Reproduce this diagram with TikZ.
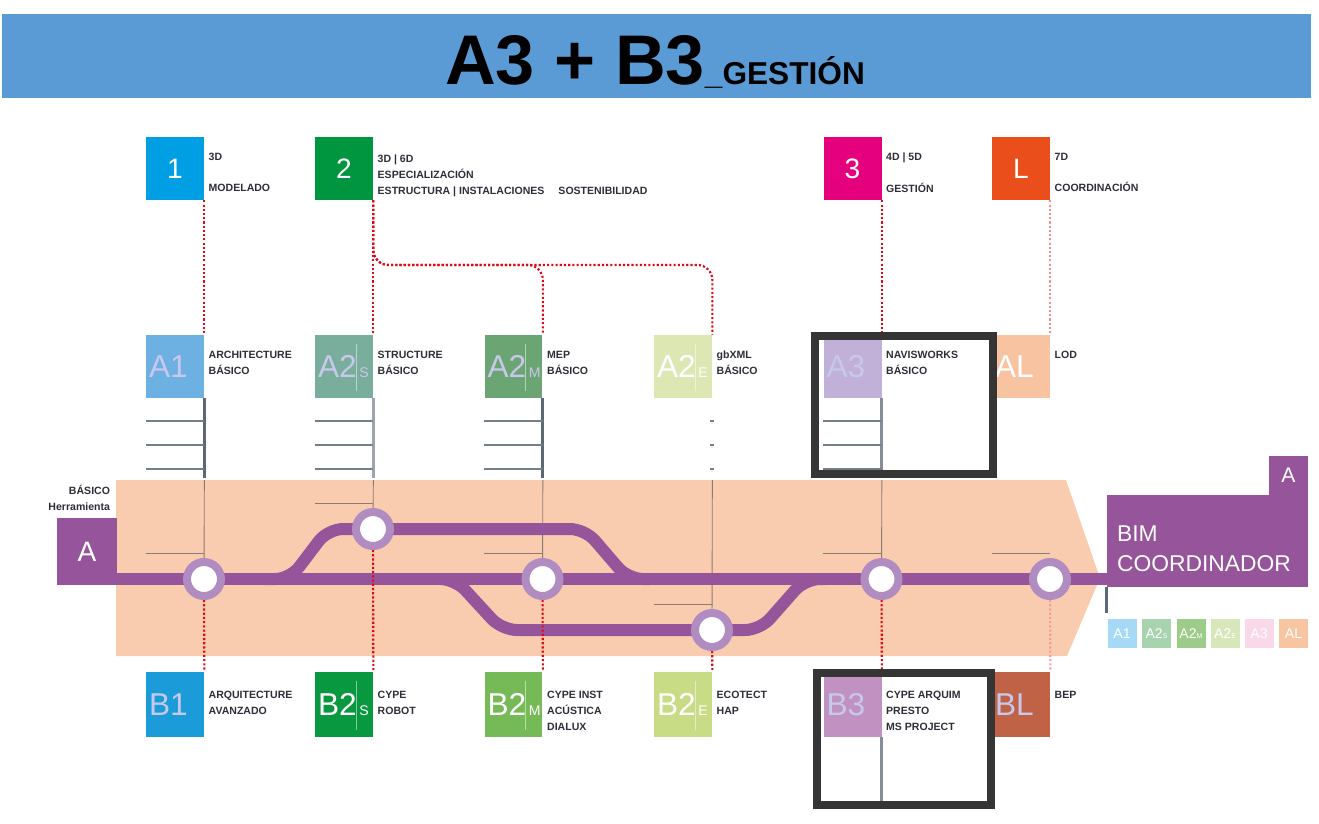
\documentclass[tikz,border=0pt]{standalone}
\usepackage{fontspec}
\setmainfont{Liberation Sans}
\usetikzlibrary{positioning,calc,backgrounds}

\definecolor{titleblue}{HTML}{5B9BD5}
\definecolor{modelblue}{HTML}{009FE3}
\definecolor{specgreen}{HTML}{009640}
\definecolor{gestmagenta}{HTML}{E5007D}
\definecolor{coordorange}{HTML}{E94E1B}
\definecolor{aone}{HTML}{6DB1E2}
\definecolor{atwos}{HTML}{7AAE9C}
\definecolor{atwom}{HTML}{6BA574}
\definecolor{atwoe}{HTML}{DCE7B4}
\definecolor{athree}{HTML}{C1B1D9}
\definecolor{alink}{HTML}{F8C3A1}
\definecolor{bone}{HTML}{1B9BD7}
\definecolor{btwos}{HTML}{08983F}
\definecolor{btwom}{HTML}{76BA57}
\definecolor{btwoe}{HTML}{C8DB85}
\definecolor{bthree}{HTML}{C191C2}
\definecolor{blink}{HTML}{BF6245}
\definecolor{chipone}{HTML}{A6D9F5}
\definecolor{chiptwos}{HTML}{A7D3AF}
\definecolor{chiptwom}{HTML}{9DCB8A}
\definecolor{chiptwoe}{HTML}{D8E7B9}
\definecolor{chipthree}{HTML}{F9D9E9}
\definecolor{chiplink}{HTML}{F8C5A2}
\definecolor{bandpeach}{HTML}{F9CCAF}
\definecolor{trackpurple}{HTML}{96549B}
\definecolor{ringpurple}{HTML}{B08CC1}
\definecolor{lettering}{HTML}{C8C8EC}
\definecolor{labelgray}{HTML}{2E2E38}
\definecolor{linkred}{HTML}{E30613}
\definecolor{stemgray}{HTML}{5C6875}
\definecolor{guidegray}{HTML}{8C7B70}
\definecolor{framegray}{HTML}{353535}

\newcommand{\tiersub}[1]{\hspace{1.5pt}{\fontsize{8}{8}\selectfont #1}}
\newcommand{\chipsub}[1]{{\fontsize{4}{4}\selectfont #1}}

\begin{document}
\begin{tikzpicture}[
    x=0.02cm, y=-0.02cm,
    topbox/.style={rectangle, minimum width=1.16cm, minimum height=1.26cm, inner sep=0pt, text=white, font=\fontsize{16}{16}\selectfont},
    tier/.style={rectangle, minimum width=1.16cm, minimum height=1.26cm, inner xsep=0.06cm, inner ysep=0pt, text width=1.04cm, align=left, text=lettering, font=\fontsize{18}{18}\selectfont},
    lbl/.style={inner sep=0pt, align=left, text=labelgray, font=\bfseries\fontsize{6}{9}\selectfont},
    reddot/.style={draw=linkred, line width=1.2pt, dash pattern=on 1.2pt off 1.2pt},
    track/.style={draw=trackpurple, line width=0.24cm},
    stop/.style={circle, draw=ringpurple, fill=white, line width=0.16cm, minimum size=0.68cm, inner sep=0pt},
    stem/.style={draw=stemgray, line width=1.6pt},
    rung/.style={draw=stemgray!85, line width=1.2pt},
    guide/.style={draw=guidegray, line width=0.5pt},
    sepline/.style={draw=white, draw opacity=0.5, line width=0.4pt},
    frame/.style={draw=framegray, line width=0.16cm},
    chip/.style={rectangle, minimum width=0.58cm, minimum height=0.58cm, inner sep=0pt, text=white, font=\fontsize{8}{8}\selectfont}
]
\useasboundingbox (0,0) rectangle (1319,823);

% title
\node[fill=titleblue, minimum width=26.18cm, minimum height=1.68cm, inner sep=0pt] (titlebar) at (656.5,56) {};
\node[anchor=base, inner sep=0pt, font=\bfseries] (title) at (655,84) {{\fontsize{40}{40}\selectfont A3 + B3}{\fontsize{18}{18}\selectfont\_GESTIÓN}};

% top row
\node[topbox, fill=modelblue] (t1) at (175,168.5) {1};
\node[topbox, fill=specgreen] (t2) at (344,168.5) {2};
\node[topbox, fill=gestmagenta] (t3) at (852.5,168.5) {3};
\node[topbox, fill=coordorange] (tL) at (1021,168.5) {L};
\node[lbl, below right=0.32cm and 0.08cm of t1.north east] (t1txt) {3D\\[9pt]MODELADO};
\node[lbl, below right=0.36cm and 0.08cm of t2.north east] (t2txt) {3D | 6D\\ESPECIALIZACIÓN\\ESTRUCTURA | INSTALACIONES\hspace{8pt}SOSTENIBILIDAD};
\node[lbl, below right=0.32cm and 0.08cm of t3.north east] (t3txt) {4D | 5D\\[9pt]GESTIÓN};
\node[lbl, below right=0.32cm and 0.08cm of tL.north east] (tLtxt) {7D\\[9pt]COORDINACIÓN};

% A row
\node[tier, fill=aone] (a1) at (175,366.5) {A1};
\node[tier, fill=atwos] (a2s) at (344,366.5) {\mbox{A2\tiersub{S}}};
\node[tier, fill=atwom] (a2m) at (513.5,366.5) {\mbox{A2\tiersub{M}}};
\node[tier, fill=atwoe, text=white] (a2e) at (683,366.5) {\mbox{A2\tiersub{E}}};
\node[tier, fill=athree] (a3) at (852.5,366.5) {A3};
\node[tier, fill=alink, text=white] (al) at (1021,366.5) {AL};
\node[lbl, below right=0.32cm and 0.08cm of a1.north east] (a1txt) {ARCHITECTURE\\BÁSICO};
\node[lbl, below right=0.32cm and 0.08cm of a2s.north east] (a2stxt) {STRUCTURE\\BÁSICO};
\node[lbl, below right=0.32cm and 0.08cm of a2m.north east] (a2mtxt) {MEP\\BÁSICO};
\node[lbl, below right=0.32cm and 0.08cm of a2e.north east] (a2etxt) {gbXML\\BÁSICO};
\node[lbl, below right=0.32cm and 0.08cm of a3.north east] (a3txt) {NAVISWORKS\\BÁSICO};
\node[lbl, below right=0.32cm and 0.08cm of al.north east] (altxt) {LOD};

% B row
\node[tier, minimum height=1.3cm, fill=bone] (b1) at (175,704.5) {B1};
\node[tier, minimum height=1.3cm, fill=btwos, text=white] (b2s) at (344,704.5) {\mbox{B2\tiersub{S}}};
\node[tier, minimum height=1.3cm, fill=btwom, text=white] (b2m) at (513.5,704.5) {\mbox{B2\tiersub{M}}};
\node[tier, minimum height=1.3cm, fill=btwoe, text=white] (b2e) at (683,704.5) {\mbox{B2\tiersub{E}}};
\node[tier, minimum height=1.3cm, fill=bthree] (b3) at (852.5,704.5) {B3};
\node[tier, minimum height=1.3cm, fill=blink] (bl) at (1021,704.5) {BL};
\node[lbl, below right=0.38cm and 0.08cm of b1.north east] (b1txt) {ARQUITECTURE\\AVANZADO};
\node[lbl, below right=0.38cm and 0.08cm of b2s.north east] (b2stxt) {CYPE\\ROBOT};
\node[lbl, below right=0.38cm and 0.08cm of b2m.north east] (b2mtxt) {CYPE INST\\ACÚSTICA\\DIALUX};
\node[lbl, below right=0.38cm and 0.08cm of b2e.north east] (b2etxt) {ECOTECT\\HAP};
\node[lbl, below right=0.38cm and 0.08cm of b3.north east] (b3txt) {CYPE ARQUIM\\PRESTO\\MS PROJECT};
\node[lbl, below right=0.38cm and 0.08cm of bl.north east] (bltxt) {BEP};

\foreach \b in {a2s,a2m,a2e,b2s,b2m,b2e}
  \draw[sepline] ($(\b.north east)+(-17,9)$) -- ($(\b.south east)+(-17,-7)$);

% line A and its stations
\node[fill=trackpurple, minimum width=1.2cm, minimum height=1.34cm, inner sep=0pt, text=white, font=\fontsize{16}{16}\selectfont] (abox) at (87,551.5) {A};
\node[lbl, align=right, above left=0.14cm and 0.14cm of abox.north east] (leveltxt) {BÁSICO\\Herramienta};
\node[stop] (s1) at (204,579) {};
\node[stop] (s2) at (373,529) {};
\node[stop] (s3) at (542.5,579) {};
\node[stop] (s4) at (712,630) {};
\node[stop] (s5) at (881.5,579) {};
\node[stop] (s6) at (1050,579) {};
\coordinate (trackin) at (57,579);
\coordinate (trackout) at (1110,579);

\begin{scope}[on background layer]
  \fill[bandpeach] (116,480) -- (1066,480) -- (1100,578) -- (1067,656) -- (116,656) -- cycle;
  \draw[guide] (a1.south east |- 0,480) -- (s1);
  \draw[guide] (a2s.south east |- 0,480) -- (s2);
  \draw[guide] (a2m.south east |- 0,480) -- (s3);
  \draw[guide] (a2e.south east |- 0,480) -- (s4);
  \draw[guide] (a3.south east |- 0,480) -- (s5);
  \draw[guide] (a1.west |- 0,553) -- (a1.east |- 0,553);
  \draw[guide] (a2s.west |- 0,503) -- (a2s.east |- 0,503);
  \draw[guide] (a2m.west |- 0,553) -- (a2m.east |- 0,553);
  \draw[guide] (a2e.west |- 0,604) -- (a2e.east |- 0,604);
  \draw[guide] (a3.west |- 0,553) -- (a3.east |- 0,553);
  \draw[guide] (al.west |- 0,553) -- (al.east |- 0,553);
  \draw[track] (trackin) -- (s1.center) -- (s3.center) -- (s5.center) -- (s6.center) -- (trackout);
  \draw[track, rounded corners=0.3cm] (265,579) -- (290,579) -- (328,529) -- (s2.center) -- (585,529) -- (628,579) -- (650,579);
  \draw[track, rounded corners=0.3cm] (440,579) -- (455,579) -- (502,630) -- (s4.center) -- (760,630) -- (805,579) -- (825,579);
\end{scope}

% stems and rungs
\draw[stem] (a1.south east) -- ++(0,80);
\draw[stem, draw=stemgray!60] (a2s.south east) -- ++(0,80);
\draw[stem] (a2m.south east) -- ++(0,80);
\draw[stem, draw=stemgray!75] (a3.south east) -- ++(0,72);
\draw[stem, draw=stemgray!75] (b3.south east) -- ++(0,68);
\foreach \b in {a1,a2s,a2m,a3}
  \foreach \y in {421,445,469}
    \draw[rung] (\b.west |- 0,\y) -- (\b.east |- 0,\y);
\foreach \y in {421,445,469}
  \draw[rung] (a2e.east |- 0,\y) +(-2,0) -- +(2,0);

% red links
\draw[reddot] (t1.south east) -- (a1.north east);
\draw[reddot] (t2.south east) -- (a2s.north east);
\draw[reddot, rounded corners=0.3cm] (t2.south east) |- (a2e.north east |- 0,265) -- (a2e.north east);
\draw[reddot, rounded corners=0.3cm] (t2.south east) |- (a2m.north east |- 0,265) -- (a2m.north east);
\draw[reddot] (t3.south east) -- (a3.north east);
\draw[reddot, draw=linkred!45] (tL.south east) -- (al.north east);
\draw[reddot] (s1) -- (b1.north east);
\draw[reddot] (s2) -- (b2s.north east);
\draw[reddot] (s3) -- (b2m.north east);
\draw[reddot] (s4) -- (b2e.north east);
\draw[reddot] (s5) -- (b3.north east);
\draw[reddot, draw=linkred!40] (s6) -- (bl.north east);

% frames
\draw[frame] (815,336) rectangle (993,473.5);
\draw[frame] (817,673) rectangle (991,805);

% BIM coordinator
\node[fill=trackpurple, minimum width=4.02cm, minimum height=1.84cm, inner sep=0pt] (bim) at (1207.5,541) {};
\node[fill=trackpurple, minimum size=0.78cm, inner sep=0pt, text=white, font=\fontsize{12}{12}\selectfont] (bimtab) at (1288.5,475.5) {A};
\node[lbl, text=white, font=\fontsize{13}{17}\selectfont, below right=0.62cm and 0.2cm of bim.north west] (bimtxt) {BIM\\COORDINADOR};
\draw[stem] (bim.south west) -- ++(0,26);

% legend
\foreach \i/\x/\c/\t in {1/1122/chipone/A1, 2/1156.5/chiptwos/A2\chipsub{S}, 3/1191/chiptwom/A2\chipsub{M}, 4/1225/chiptwoe/A2\chipsub{E}, 5/1259/chipthree/A3, 6/1293.5/chiplink/AL}
  \node[chip, fill=\c] (lg\i) at (\x,633.5) {\t};
\end{tikzpicture}
\end{document}
